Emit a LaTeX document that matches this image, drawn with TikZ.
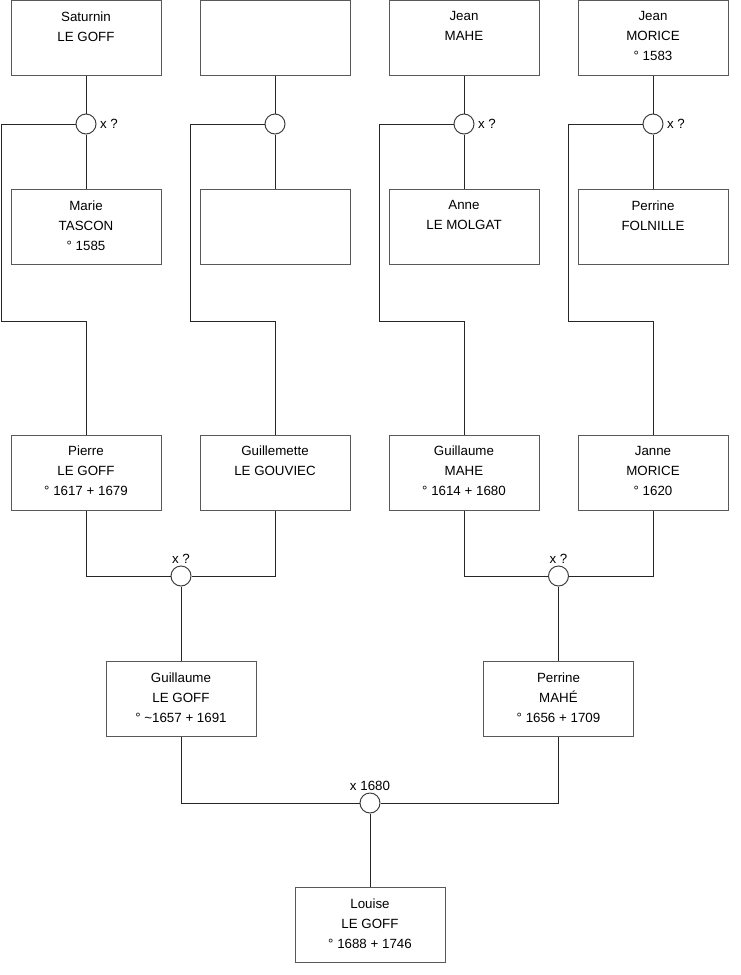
\documentclass[tikz,border=0pt]{standalone}
\usepackage{fontspec}
\setmainfont{Liberation Sans}
\begin{document}
\begin{tikzpicture}[x=0.75pt,y=-0.75pt,
  box/.style={draw=black!65, line width=0.75pt, minimum width=112.5pt, minimum height=56.25pt, inner sep=0pt, fill=white},
  txt/.style={font=\fontsize{10}{15}\selectfont, align=center, inner sep=0pt, anchor=north, yshift=-8.6pt},
  ring/.style={circle, draw=black!75, line width=0.75pt, minimum size=15pt, inner sep=0pt, fill=white},
  lab/.style={font=\fontsize{10}{12}\selectfont, inner sep=1pt},
  link/.style={draw=black!85, line width=0.75pt}]
\useasboundingbox (0,0) rectangle (740,975);

% row 1
\node[box, label={[txt]north:Saturnin\\LE GOFF}] (sat) at (86,38) {};
\node[box] (unk1) at (275,38) {};
\node[box, label={[txt]north:Jean\\MAHE}] (jmahe) at (464,38) {};
\node[box, label={[txt]north:Jean\\MORICE\\° 1583}] (jmorice) at (653,38) {};

% marriage rings row 1
\node[ring, label={[lab, xshift=1.5pt]east:x ?}] (c1) at (86,124) {};
\node[ring] (c2) at (275,124) {};
\node[ring, label={[lab, xshift=1.5pt]east:x ?}] (c3) at (464,124) {};
\node[ring, label={[lab, xshift=1.5pt]east:x ?}] (c4) at (653,124) {};

% row 2
\node[box, label={[txt]north:Marie\\TASCON\\° 1585}] (marie) at (86,227) {};
\node[box] (unk2) at (275,227) {};
\node[box, label={[txt]north:Anne\\LE MOLGAT}] (anne) at (464,227) {};
\node[box, label={[txt]north:Perrine\\FOLNILLE}] (pfol) at (653,227) {};

% row 3
\node[box, label={[txt]north:Pierre\\LE GOFF\\° 1617 + 1679}] (pierre) at (86,472.5) {};
\node[box, label={[txt]north:Guillemette\\LE GOUVIEC}] (guillemette) at (275,472.5) {};
\node[box, label={[txt]north:Guillaume\\MAHE\\° 1614 + 1680}] (gmahe) at (464,472.5) {};
\node[box, label={[txt]north:Janne\\MORICE\\° 1620}] (janne) at (653,472.5) {};

% marriage rings row 3
\node[ring, label={[lab]north:x ?}] (m1) at (181,576) {};
\node[ring, label={[lab]north:x ?}] (m2) at (558.5,576) {};

% row 4
\node[box, label={[txt]north:Guillaume\\LE GOFF\\° \textasciitilde 1657 + 1691}] (glg) at (181,699) {};
\node[box, label={[txt]north:Perrine\\MAHÉ\\° 1656 + 1709}] (pmahe) at (558.5,699) {};

\node[ring, label={[lab]north:x 1680}] (m3) at (370,803) {};

% row 5
\node[box, label={[txt]north:Louise\\LE GOFF\\° 1688 + 1746}] (louise) at (370,925) {};

% corner coordinates
\coordinate (k1a) at (1,124);   \coordinate (k1b) at (1,321);
\coordinate (k2a) at (190,124); \coordinate (k2b) at (190,321);
\coordinate (k3a) at (379,124); \coordinate (k3b) at (379,321);
\coordinate (k4a) at (568,124); \coordinate (k4b) at (568,321);

\path[link] (sat) -- (c1) -- (marie);
\path[link] (unk1) -- (c2) -- (unk2);
\path[link] (jmahe) -- (c3) -- (anne);
\path[link] (jmorice) -- (c4) -- (pfol);

\path[link] (c1.west) -- (k1a) -- (k1b) -| (pierre.north);
\path[link] (c2.west) -- (k2a) -- (k2b) -| (guillemette.north);
\path[link] (c3.west) -- (k3a) -- (k3b) -| (gmahe.north);
\path[link] (c4.west) -- (k4a) -- (k4b) -| (janne.north);

\path[link] (pierre.south) |- (m1.west);
\path[link] (guillemette.south) |- (m1.east);
\path[link] (m1) -- (glg);
\path[link] (gmahe.south) |- (m2.west);
\path[link] (janne.south) |- (m2.east);
\path[link] (m2) -- (pmahe);

\path[link] (glg.south) |- (m3.west);
\path[link] (pmahe.south) |- (m3.east);
\path[link] (m3) -- (louise);
\end{tikzpicture}
\end{document}
